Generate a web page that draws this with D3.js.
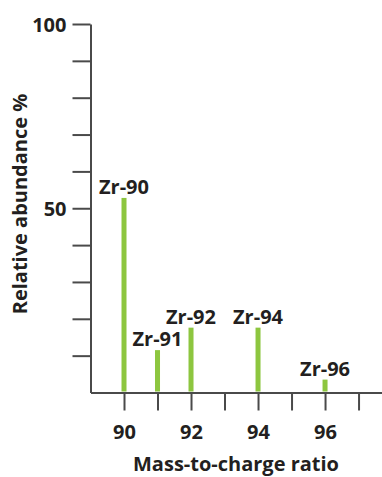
<!DOCTYPE html>
<html>
<head>
<meta charset="utf-8">
<script src="https://cdn.jsdelivr.net/npm/d3@7"></script>
<style>
  html, body { margin: 0; padding: 0; background: #fff; }
  svg { display: block; }
  text { font-family: "Open Sans", "Noto Sans", sans-serif; font-weight: 700; fill: #231f20; }
</style>
</head>
<body>
<div id="chart"></div>
<script>
// Data
const isotopes = ["Zr-90", "Zr-91", "Zr-92", "Zr-94", "Zr-96"];
const massToCharge = [90, 91, 92, 94, 96];
const abundance = [52.8, 11.5, 17.6, 17.6, 3.5];
const xTicks = [90, 91, 92, 93, 94, 95, 96, 97];
const xTickLabels = [90, 92, 94, 96];
const yTicks = [10, 20, 30, 40, 50, 60, 70, 80, 90, 100];
const yTickLabels = [50, 100];

const W = 382, H = 477;
const svg = d3.select("#chart").append("svg").attr("width", W).attr("height", H);

const x = d3.scaleLinear().domain([89, 97.7]).range([90.5, 382]);
const y = d3.scaleLinear().domain([0, 100]).range([392.5, 24]);

const axisColor = "#4a4a4a";

// Y axis
const gy = svg.append("g").attr("transform", `translate(${x(89)},0)`)
  .call(d3.axisLeft(y).tickValues(yTicks).tickSize(18).tickSizeOuter(0).tickPadding(6)
    .tickFormat(d => yTickLabels.includes(d) ? d : ""));
gy.select(".domain").attr("stroke", axisColor).attr("stroke-width", 2);
gy.selectAll(".tick line").attr("stroke", axisColor).attr("stroke-width", 2);
gy.selectAll(".tick text").attr("font-size", 20).attr("font-family", null).attr("fill", "#231f20")
  .attr("dy", "0.35em");

// X axis
const gx = svg.append("g").attr("transform", `translate(0,${y(0)})`)
  .call(d3.axisBottom(x).tickValues(xTicks).tickSize(18).tickSizeOuter(0)
    .tickFormat(d => xTickLabels.includes(d) ? d : ""));
gx.select(".domain").attr("stroke", axisColor).attr("stroke-width", 2);
gx.selectAll(".tick line").attr("stroke", axisColor).attr("stroke-width", 2);
gx.selectAll(".tick text").attr("font-size", 20).attr("font-family", null).attr("fill", "#231f20")
  .attr("y", 46).attr("dy", 0);

// Bars
const data = isotopes.map((name, i) => ({ name, mz: massToCharge[i], v: abundance[i] }));
const barW = 5;
svg.append("g").selectAll("rect").data(data).join("rect")
  .attr("x", d => x(d.mz) - barW / 2)
  .attr("y", d => y(d.v))
  .attr("width", barW)
  .attr("height", d => y(0) - y(d.v) - 1)
  .attr("fill", "#8dc63f");

// Bar labels
svg.append("g").selectAll("text").data(data).join("text")
  .attr("x", d => x(d.mz))
  .attr("y", d => y(d.v) - 4)
  .attr("text-anchor", "middle")
  .attr("font-size", 20)
  .text(d => d.name);

// Axis titles
svg.append("text")
  .attr("transform", "rotate(-90)")
  .attr("x", -204).attr("y", 27)
  .attr("text-anchor", "middle")
  .attr("font-size", 20)
  .text("Relative abundance %");

svg.append("text")
  .attr("x", 236).attr("y", 471)
  .attr("text-anchor", "middle")
  .attr("font-size", 20)
  .text("Mass-to-charge ratio");
</script>
</body>
</html>
